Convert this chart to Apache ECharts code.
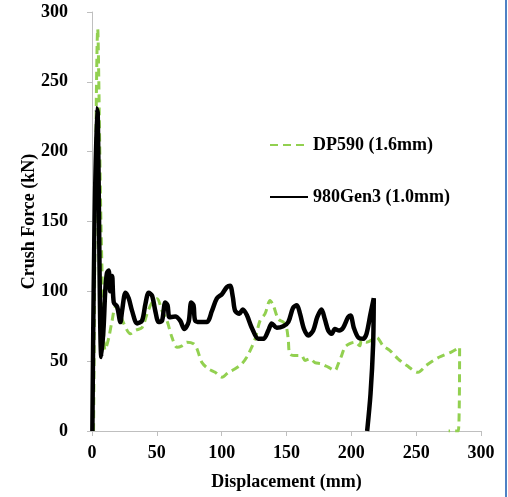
<!DOCTYPE html>
<html>
<head>
<meta charset="utf-8">
<script src="https://cdn.jsdelivr.net/npm/echarts@6/dist/echarts.min.js"></script>
<style>
html,body{margin:0;padding:0;background:#fff;}
#wrap{position:relative;width:508px;height:497px;}
#chart{width:508px;height:497px;}
#edge{position:absolute;left:505px;top:0;width:2px;height:497px;background:#4f81c4;}
</style>
</head>
<body>
<div id="wrap"><div id="chart"></div><div id="edge"></div></div>
<script>
// Series names
var seriesNames = ['DP590 (1.6mm)', '980Gen3 (1.0mm)'];
// Axis ticks
var xTicks = [0, 50, 100, 150, 200, 250, 300];
var yTicks = [0, 50, 100, 150, 200, 250, 300];

// DP590 (1.6mm): displacement (mm) and crush force (kN)
var dpX = [1.2, 4.4, 7, 10, 11, 13, 15.5, 18, 20.6, 24.5, 29.6, 33.5, 38.6, 42.5, 46.3, 50.2, 54, 57.8, 61.7, 65.5, 69.4, 73.2, 78.3, 80.9, 84.8, 89.8, 95, 100.2, 105.2, 110.4, 115.5, 119.4, 123.2, 125.8, 129.6, 133.5, 137.3, 139.8, 143.7, 147.5, 150, 151.4, 152.7, 157.8, 161.7, 164.2, 168, 171.9, 177, 182.2, 187.3, 189.9, 192.5, 195, 198.8, 202.7, 206.5, 207.8, 211.7, 219.4, 224.5, 229.6, 236, 242.5, 251.4, 257.8, 268, 277, 283.5, 282.5, 275];
var dpY = [0, 288, 145, 58, 60, 67, 79, 88.7, 86, 77, 69.6, 72, 74, 84, 92, 94.7, 86, 79, 67, 60, 61, 63.6, 62.5, 59, 49, 44.5, 42, 38.5, 42, 44.5, 48, 53, 60, 66, 79, 84, 93.5, 90, 80, 78, 74, 65, 55, 54, 54, 50.5, 51.7, 49, 48, 45.7, 43.3, 48, 54, 60, 62.5, 63.6, 61, 64.8, 63.6, 67, 61, 57.7, 51.7, 47, 42, 47, 53, 56.5, 60, 0, 0];

// 980Gen3 (1.0mm)
var genX = [0.3, 3.4, 4.4, 7.2, 9, 10.2, 11.5, 12.9, 14, 15.5, 16.8, 19.4, 21.9, 23.2, 25.8, 28.3, 30.9, 34.8, 38.6, 41.2, 43.7, 46.3, 48.8, 51.4, 54, 56.5, 58.3, 59.8, 64.2, 68, 71.2, 74.5, 76.5, 78.3, 79.6, 83.5, 88.6, 92.5, 96.3, 100.2, 104, 106.5, 108.6, 110.4, 113.7, 116.3, 119.4, 123.2, 128.3, 132.2, 136, 138.6, 142.5, 147.5, 151.4, 155, 158, 160.4, 163.5, 166.8, 170.6, 173.7, 177, 179.6, 182.2, 184.8, 187.3, 190.6, 193.7, 197.5, 199.4, 201.9, 205.3, 209.1, 211.7, 214.8, 217.3, 216.8, 214.8, 212.2];
var genY = [0, 231, 228, 53, 75, 100, 113, 115, 100, 111, 92, 89, 78, 86, 99, 95, 86, 77, 79, 91, 99, 97, 86, 78, 79, 92, 90, 81.5, 82, 79, 73, 78, 92, 90, 79, 78, 78, 86, 95, 98, 103, 104, 96, 86, 84, 87, 83, 74, 66, 66, 72, 77, 74, 75, 78, 88, 90, 84, 73, 68.4, 72, 81.5, 87, 80, 72, 69.6, 73, 72, 74, 81.5, 82.7, 74, 67, 66, 69.6, 84, 95, 62, 26.6, 0];

function pairs(xs, ys) { return xs.map(function (x, i) { return [x, ys[i]]; }); }

var font = '"Liberation Serif", "Times New Roman", serif';
var chart = echarts.init(document.getElementById('chart'), null, {renderer: 'canvas'});
chart.setOption({
  animation: false,
  backgroundColor: '#ffffff',
  grid: {left: 92, right: 27, top: 12, bottom: 66, containLabel: false},
  legend: {
    orient: 'vertical', left: 264, top: 131, itemGap: 34, itemWidth: 38, itemHeight: 14,
    data: seriesNames,
    itemStyle: {opacity: 0},
    textStyle: {fontFamily: font, fontWeight: 'bold', fontSize: 18, color: '#000'}
  },
  xAxis: {
    type: 'value', min: xTicks[0], max: xTicks[xTicks.length - 1], interval: 50,
    name: 'Displacement (mm)', nameLocation: 'middle', nameGap: 42, nameMoveOverlap: false,
    nameTextStyle: {fontFamily: font, fontWeight: 'bold', fontSize: 18, color: '#000'},
    axisLine: {show: true, lineStyle: {color: '#bfbfbf', width: 1}},
    axisTick: {show: true, length: 5, lineStyle: {color: '#bfbfbf'}},
    axisLabel: {fontFamily: font, fontWeight: 'bold', fontSize: 18, color: '#000', margin: 13},
    splitLine: {show: false}
  },
  yAxis: {
    type: 'value', min: yTicks[0], max: yTicks[yTicks.length - 1], interval: 50,
    name: 'Crush Force (kN)', nameLocation: 'middle', nameGap: 54, nameMoveOverlap: false,
    nameTextStyle: {fontFamily: font, fontWeight: 'bold', fontSize: 18, color: '#000'},
    axisLine: {show: true, lineStyle: {color: '#bfbfbf', width: 1}},
    axisTick: {show: true, length: 5, lineStyle: {color: '#bfbfbf'}},
    axisLabel: {fontFamily: font, fontWeight: 'bold', fontSize: 18, color: '#000', margin: 24},
    splitLine: {show: false}
  },
  series: [
    {
      name: seriesNames[0], type: 'line', data: pairs(dpX, dpY), symbol: 'none', smooth: 0.3,
      lineStyle: {color: '#92d050', width: 3, type: [8, 5]}, itemStyle: {color: '#92d050'}, z: 2
    },
    {
      name: seriesNames[1], type: 'line', data: pairs(genX, genY), symbol: 'none', smooth: 0.3,
      lineStyle: {color: '#000000', width: 4.5}, itemStyle: {color: '#000000'}, z: 3
    }
  ]
});
</script>
</body>
</html>
